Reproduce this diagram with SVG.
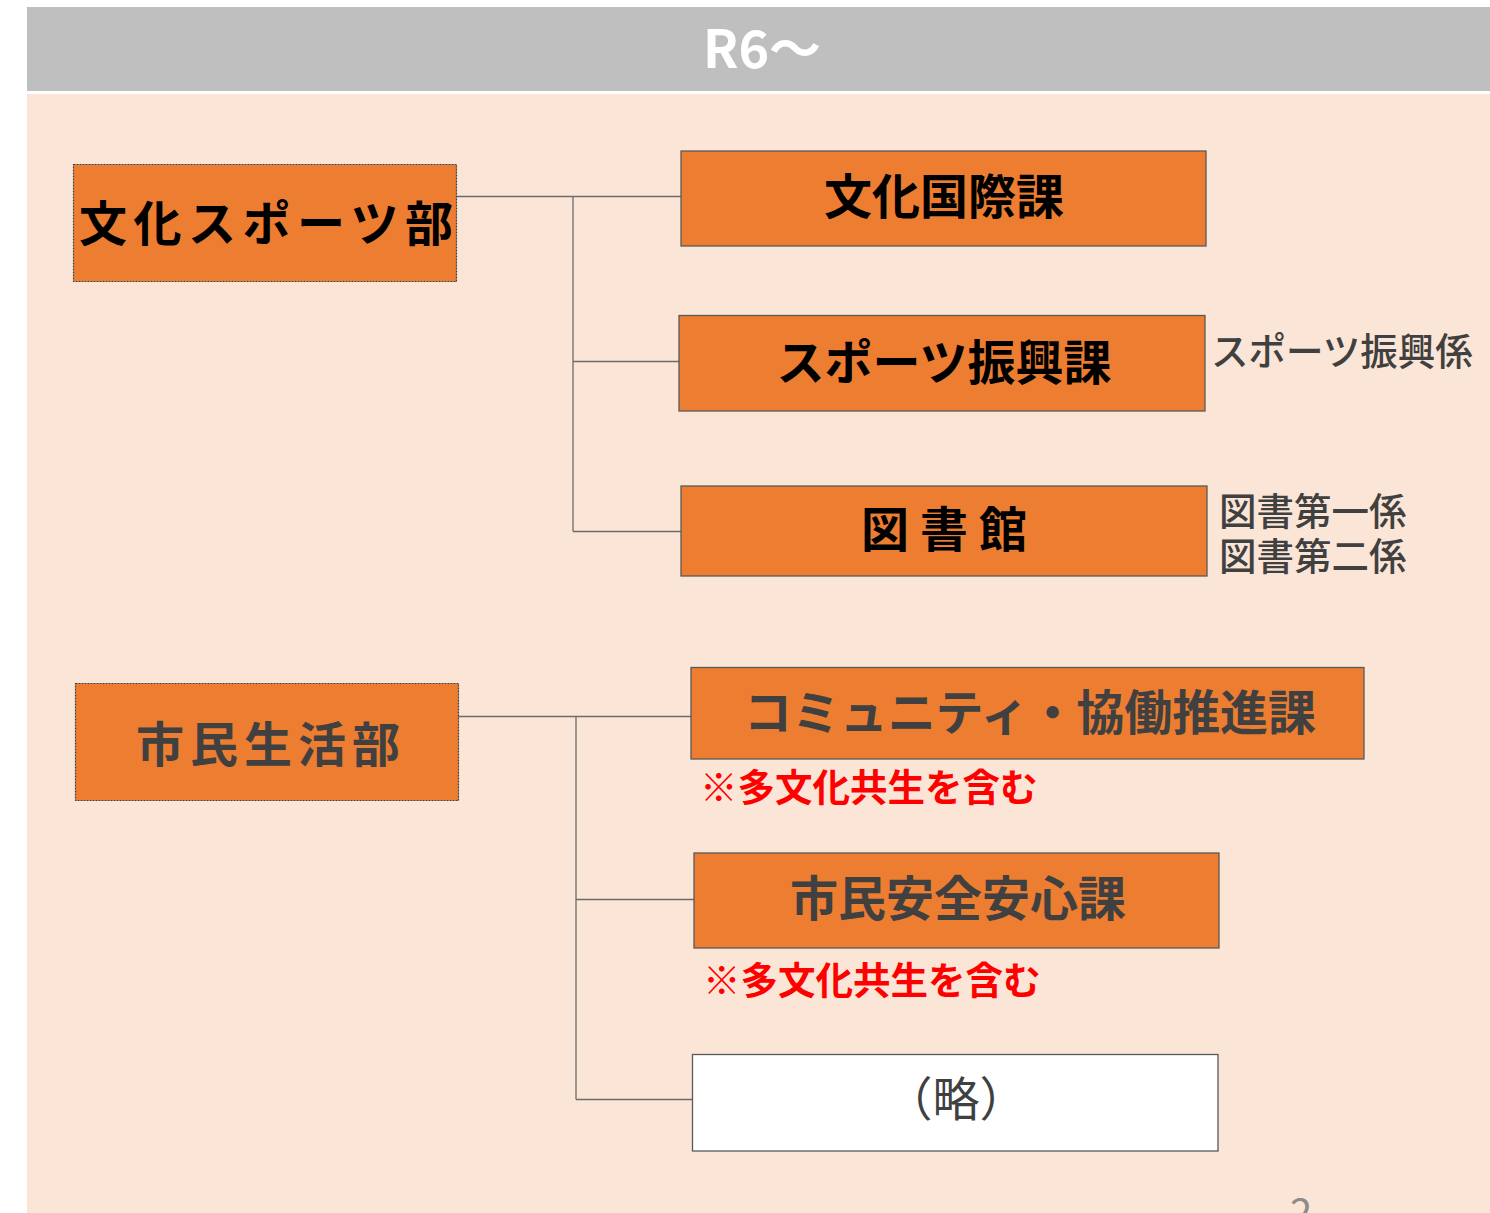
<svg xmlns="http://www.w3.org/2000/svg" width="1490" height="1213" viewBox="0 0 1490 1213">
<style>
text { font-family: "Noto Sans CJK JP", "Noto Sans", sans-serif; }
.box { fill: #ED7D31; stroke: #595959; stroke-width: 1.3; }
.dept { fill: #ED7D31; stroke: #404040; stroke-width: 1.2; stroke-dasharray: 2 1; }
.blank { fill: #FFFFFF; stroke: #595959; stroke-width: 1.3; }
.lbl { font-weight: 700; font-size: 48px; text-anchor: middle; }
.blk { fill: #000000; }
.gry { fill: #404040; }
.side { font-size: 37.5px; font-weight: 500; fill: #404040; }
.note { font-size: 37.5px; font-weight: 700; fill: #FF0000; }
.conn line { stroke: #6b6b6b; stroke-width: 1.3; }
</style>
<rect x="0" y="0" width="1490" height="1213" fill="#FFFFFF"/>
<rect x="27" y="7" width="1463" height="84" fill="#BFBFBF"/>
<rect x="27" y="94" width="1463" height="1119" fill="#FBE5D6"/>
<text x="762" y="68" font-size="52" font-weight="700" fill="#FFFFFF" text-anchor="middle">R6〜</text>

<g class="conn">
  <line x1="457" y1="196.5" x2="681" y2="196.5"/>
  <line x1="573" y1="196" x2="573" y2="531.5"/>
  <line x1="573" y1="361.5" x2="679" y2="361.5"/>
  <line x1="573" y1="531.5" x2="681" y2="531.5"/>
  <line x1="458" y1="716.5" x2="691" y2="716.5"/>
  <line x1="576" y1="716" x2="576" y2="1099.5"/>
  <line x1="576" y1="899.5" x2="694" y2="899.5"/>
  <line x1="576" y1="1099.5" x2="692" y2="1099.5"/>
</g>

<g id="bunka-sports-bu">
  <rect class="dept" x="73.5" y="164.5" width="383" height="117"/>
  <text class="lbl blk" x="266" y="241" font-size="55" textLength="374" lengthAdjust="spacing">文化スポーツ部</text>
</g>
<g id="bunka-kokusai-ka">
  <rect class="box" x="681" y="151" width="525" height="95"/>
  <text class="lbl blk" x="944" y="214">文化国際課</text>
</g>
<g id="sports-shinko-ka">
  <rect class="box" x="679" y="315.5" width="526" height="95.5"/>
  <text class="lbl blk" x="944" y="380">スポーツ振興課</text>
  <text class="side" x="1211" y="365">スポーツ振興係</text>
</g>
<g id="toshokan">
  <rect class="box" x="681" y="486" width="526" height="90"/>
  <text class="lbl blk" x="944" y="547" font-size="49">図 書 館</text>
  <text class="side" x="1219" y="525">図書第一係</text>
  <text class="side" x="1219" y="570">図書第二係</text>
</g>
<g id="shimin-seikatsu-bu">
  <rect class="dept" x="75.5" y="683.5" width="383" height="117"/>
  <text class="lbl gry" x="268" y="762" font-size="58" textLength="264" lengthAdjust="spacing">市民生活部</text>
</g>
<g id="community-kyodo-ka">
  <rect class="box" x="691" y="667.5" width="673" height="91.5"/>
  <text class="lbl gry" x="1030" y="730" font-size="47" textLength="572" lengthAdjust="spacing">コミュニティ・協働推進課</text>
  <text class="note" x="700" y="801">※多文化共生を含む</text>
</g>
<g id="shimin-anzen-ka">
  <rect class="box" x="694" y="853" width="525" height="95"/>
  <text class="lbl gry" x="958" y="916">市民安全安心課</text>
  <text class="note" x="703" y="994">※多文化共生を含む</text>
</g>
<g id="ryaku">
  <rect class="blank" x="692.5" y="1054.5" width="525.5" height="96.5"/>
  <text x="956" y="1116" font-size="47" fill="#404040" text-anchor="middle">（略）</text>
</g>
<text x="1301" y="1228" font-size="40" fill="#8C8C8C" text-anchor="middle">2</text>
</svg>
